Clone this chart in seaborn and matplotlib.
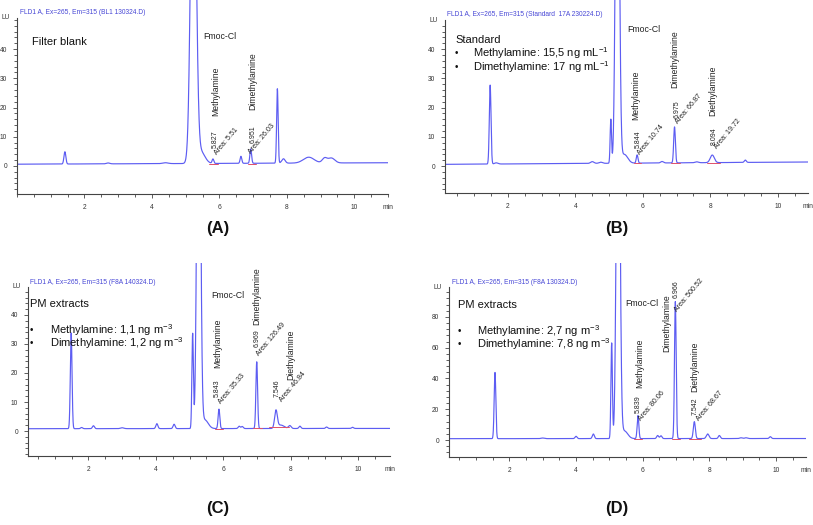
import numpy as np
import pandas as pd
import seaborn as sns
import matplotlib.pyplot as plt
from matplotlib.ticker import MultipleLocator, FixedLocator

sns.set_theme(style="white")
plt.rcParams["font.family"] = ["Liberation Sans", "DejaVu Sans"]
plt.rcParams["mathtext.fontset"] = "custom"
plt.rcParams["mathtext.rm"] = "Liberation Sans"
plt.rcParams["mathtext.it"] = "Liberation Sans:italic"

# ---- peak tables (time min, height LU, width min) ----
A_time = [1.42, 2.7, 4.4, 5.23, 5.45, 5.81, 6.64, 6.93, 7.72, 7.9, 8.65, 9.12, 9.32]
A_height = [4.2, 0.3, 0.3, 136, 4.0, 1.5, 2.4, 4.9, 25.5, 1.5, 2.0, 1.6, 1.7]
A_width = [0.028, 0.05, 0.08, 0.076, 0.12, 0.025, 0.025, 0.025, 0.022, 0.05, 0.16, 0.07, 0.1]
A_base = [0.6, 1.1]

B_time = [1.47, 1.65, 4.5, 4.75, 5.05, 5.245, 5.45, 5.83, 6.57, 6.94, 7.6, 8.06, 9.04]
B_height = [27, 0.4, 0.6, 0.4, 15, 169, 3.0, 2.8, 0.5, 12.3, 0.3, 2.6, 0.8]
B_width = [0.025, 0.05, 0.05, 0.05, 0.02, 0.051, 0.1, 0.025, 0.04, 0.025, 0.05, 0.06, 0.03]
B_base = [0.6, 1.4]

C_time = [1.49, 1.8, 2.15, 3.0, 4.03, 4.54, 5.09, 5.27, 5.45, 5.87, 6.47, 6.56,
          6.99, 7.56, 7.7, 7.97, 8.27, 9.06, 9.83]
C_height = [33, 0.4, 1.0, 0.3, 1.7, 1.5, 32.6, 170, 3.0, 6.7, 0.8, 0.7,
            23, 6.0, 1.2, 1.0, 0.8, 0.5, 0.4]
C_width = [0.025, 0.03, 0.03, 0.05, 0.03, 0.03, 0.022, 0.05, 0.1, 0.025, 0.03, 0.03,
           0.025, 0.04, 0.1, 0.04, 0.03, 0.03, 0.03]
C_base = [0.8, 0.9]

D_time = [1.57, 3.0, 4.0, 4.52, 5.07, 5.265, 5.45, 5.86, 6.45, 6.55, 6.98, 7.55,
          7.95, 8.3, 8.95, 9.1, 9.83]
D_height = [43, 0.4, 1.5, 3.0, 62, 300, 5.0, 15, 2.0, 1.8, 89, 11,
            3.0, 2.0, 0.5, 0.5, 1.2]
D_width = [0.025, 0.05, 0.03, 0.03, 0.022, 0.05, 0.1, 0.025, 0.03, 0.03, 0.025, 0.03,
           0.04, 0.03, 0.04, 0.04, 0.03]
D_base = [0.9, 1.0]

# integration baselines (red) under the labelled peaks
A_red = [(5.70, 5.95, 0.7), (6.85, 7.10, 0.8)]
B_red = [(5.75, 5.95, 0.9), (6.85, 7.10, 1.0), (7.90, 8.30, 1.1)]
C_red = [(5.75, 5.98, 0.8), (6.88, 7.15, 0.9), (7.35, 7.95, 1.3)]
D_red = [(5.75, 5.98, 1.0), (6.88, 7.12, 1.0), (7.40, 7.75, 1.0)]

A_title = "FLD1 A, Ex=265, Em=315 (BL1 130324.D)"
B_title = "FLD1 A, Ex=265, Em=315 (Standard  17A 230224.D)"
C_title = "FLD1 A, Ex=265, Em=315 (F8A 140324.D)"
D_title = "FLD1 A, Ex=265, Em=315 (F8A 130324.D)"

LINE = "#5d5df2"
BLUE_TXT = "#4747d6"
RED = "#e0506a"
W, H = 813, 525

fig = plt.figure(figsize=(W / 100, H / 100), dpi=100)


def trace(ax, xlim, times, heights, widths, base):
    t = np.linspace(xlim[0], xlim[1], 5000)
    y = base[0] + (base[1] - base[0]) * (t - xlim[0]) / (xlim[1] - xlim[0])
    for c, h, w in zip(times, heights, widths):
        y = y + h * np.exp(-0.5 * ((t - c) / w) ** 2)
    df = pd.DataFrame({"t": t, "LU": y})
    sns.lineplot(data=df, x="t", y="LU", ax=ax, color=LINE, lw=0.85, estimator=None)
    ax.set_xlabel("")
    ax.set_ylabel("")


def panel(box, xlim, ylim, ytop, ystep, ymin_step):
    left, right, top, bottom = box
    ax = fig.add_axes([left / W, 1 - bottom / H, (right - left) / W, (bottom - top) / H])
    ax.set_xlim(*xlim)
    ax.set_ylim(*ylim)
    ax.patch.set_alpha(0)
    for s in ["top", "right"]:
        ax.spines[s].set_visible(False)
    for s in ["left", "bottom"]:
        ax.spines[s].set_color("#444444")
        ax.spines[s].set_linewidth(0.8)
    ax.spines["left"].set_bounds(ylim[0], ytop)
    ax.xaxis.set_major_locator(MultipleLocator(2))
    ax.xaxis.set_minor_locator(MultipleLocator(0.5))
    ax.yaxis.set_major_locator(FixedLocator(np.arange(0, ytop - ystep / 2, ystep)))
    ax.yaxis.set_minor_locator(FixedLocator(np.arange(-ymin_step * int(-ylim[0] // ymin_step), ytop, ymin_step)))
    ax.set_xticks([2, 4, 6, 8, 10])
    ax.set_xticklabels(["2", "4", "6", "8", "10"])
    ax.tick_params(which="both", direction="out", colors="#444444", labelsize=4.8,
                   labelcolor="#333333", bottom=True, left=True, width=0.6)
    ax.tick_params(which="major", length=3, pad=4)
    ax.tick_params(which="minor", length=2)
    ax.text(-0.02, ytop, "LU", transform=ax.get_yaxis_transform(), ha="right",
            va="center", fontsize=4.8, color="#333333")
    ax.annotate("min", xy=(1.0, 0), xycoords="axes fraction", xytext=(0, -9.5),
                textcoords="offset points", ha="center", va="center", fontsize=4.8,
                color="#333333")
    return ax


def labels(ax, names, nums, areas):
    for txt, x, y in names:
        ax.text(x, y, txt, rotation=90, ha="center", va="bottom", fontsize=6.2, color="#222222")
    for txt, x, y in nums:
        ax.text(x, y, txt, rotation=90, ha="center", va="bottom", fontsize=5.0, color="#222222")
    for txt, x, y in areas:
        ax.text(x, y, txt, rotation=50, ha="left", va="bottom", rotation_mode="anchor",
                fontsize=5.1, color="#222222")


def red_lines(ax, segs):
    for t0, t1, yv in segs:
        ax.plot([t0, t1], [yv, yv], color=RED, lw=0.7)


def bullets(ax, xb, xt, rows):
    for txt, y in rows:
        ax.text(xb, y, "\u2022", ha="left", va="center", fontsize=7, color="#111111")
        ax.text(xt, y, txt, ha="left", va="center", fontsize=8, color="#111111")


# ---------------- (A) ----------------
axA = panel((17, 388, 0, 194), (0.0, 11.0), (-9.6, 56.8), 50.7, 10, 2)
trace(axA, (0.0, 11.0), A_time, A_height, A_width, A_base)
red_lines(axA, A_red)
axA.text(0.45, 42.5, "Filter blank", fontsize=8, va="center", color="#111111")
axA.text(5.52, 44.2, "Fmoc-Cl", fontsize=6.3, va="center", color="#222222")
labels(axA,
       [("Methylamine", 5.9, 17.1), ("Dimethylamine", 7.0, 19.2)],
       [("5.827", 5.88, 6.2), ("6.951", 7.0, 8.0)],
       [("Area: 5.51", 5.98, 3.2), ("Area: 26.03", 6.98, 3.8)])

# ---------------- (B) ----------------
axB = panel((445, 808, 0, 193), (0.13, 10.9), (-9.2, 56.8), 49.9, 10, 2)
trace(axB, (0.13, 10.9), B_time, B_height, B_width, B_base)
red_lines(axB, B_red)
axB.text(0.43, 43.1, "Standard", fontsize=8, va="center", color="#111111")
bullets(axB, 0.43, 0.96, [("Methylamine: 15,5 ng mL$^{-1}$", 38.6),
                          ("Dimethylamine: 17 ng mL$^{-1}$", 33.8)])
axB.text(5.53, 46.8, "Fmoc-Cl", fontsize=6.3, va="center", color="#222222")
labels(axB,
       [("Methylamine", 5.8, 15.7), ("Dimethylamine", 6.96, 26.7), ("Diethylamine", 8.08, 17.1)],
       [("5.844", 5.86, 6.2), ("6.975", 7.01, 16.4), ("8.094", 8.11, 7.2)],
       [("Area: 10.74", 5.95, 3.5), ("Area: 66.87", 7.1, 14.0), ("Area: 19.72", 8.26, 5.5)])

# ---------------- (C) ----------------
axC = panel((28, 390, 263, 456), (0.21, 10.94), (-8.6, 57.9), 49.7, 10, 2)
trace(axC, (0.21, 10.94), C_time, C_height, C_width, C_base)
red_lines(axC, C_red)
axC.text(0.27, 43.8, "PM extracts", fontsize=8, va="center", color="#111111")
bullets(axC, 0.27, 0.87, [("Methylamine: 1,1 ng m$^{-3}$", 34.8),
                          ("Dimethylamine: 1,2 ng m$^{-3}$", 30.3)])
axC.text(5.64, 46.6, "Fmoc-Cl", fontsize=6.3, va="center", color="#222222")
labels(axC,
       [("Methylamine", 5.84, 21.7), ("Dimethylamine", 7.0, 36.6), ("Diethylamine", 8.0, 17.6)],
       [("5.843", 5.81, 11.7), ("6.969", 7.0, 29.0), ("7.546", 7.59, 11.7)],
       [("Area: 35.33", 5.99, 9.0), ("Area: 126.49", 7.09, 25.5), ("Area: 46.84", 7.77, 9.7)])

# ---------------- (D) ----------------
axD = panel((449, 806, 263, 457), (0.19, 10.9), (-11, 115), 99.4, 20, 4)
trace(axD, (0.19, 10.9), D_time, D_height, D_width, D_base)
red_lines(axD, D_red)
axD.text(0.46, 87.7, "PM extracts", fontsize=8, va="center", color="#111111")
bullets(axD, 0.46, 1.03, [("Methylamine: 2,7 ng m$^{-3}$", 70.8),
                          ("Dimethylamine: 7,8 ng m$^{-3}$", 62.3)])
axD.text(5.47, 89.0, "Fmoc-Cl", fontsize=6.3, va="center", color="#222222")
labels(axD,
       [("Methylamine", 5.9, 33.8), ("Dimethylamine", 6.73, 57.1), ("Diethylamine", 7.57, 31.2)],
       [("5.839", 5.86, 17.5), ("6.966", 7.0, 92.2), ("7.542", 7.57, 16.2)],
       [("Area: 80.06", 6.01, 11.7), ("Area: 500.52", 7.09, 82.5), ("Area: 68.67", 7.73, 11.7)])

# titles and panel letters
for txt, x, y in [(A_title, 20, 12), (B_title, 447, 15), (C_title, 30, 282), (D_title, 452, 282)]:
    fig.text(x / W, 1 - y / H, txt, fontsize=4.8, color=BLUE_TXT, ha="left", va="center")
for txt, x, y in [("(A)", 218, 228), ("(B)", 617, 228), ("(C)", 218, 508), ("(D)", 617, 508)]:
    fig.text(x / W, 1 - y / H, txt, fontsize=12, fontweight="bold", ha="center", va="center",
             color="#111111")

fig.savefig("out.png", dpi=100)
